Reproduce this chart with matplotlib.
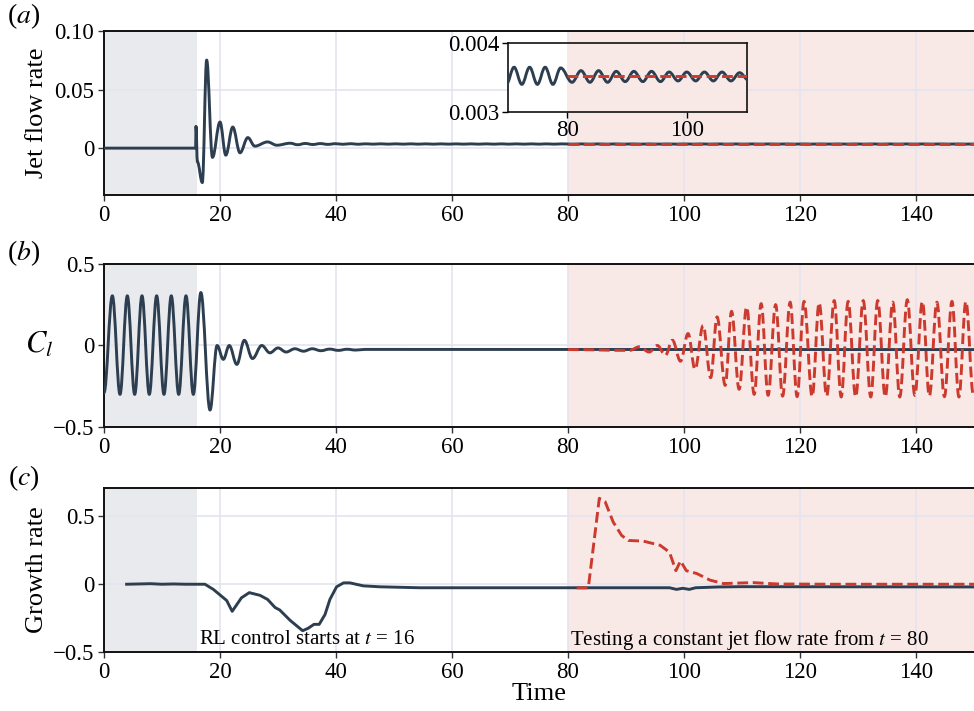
import numpy as np
import matplotlib
matplotlib.use("Agg")
import matplotlib.pyplot as plt
from matplotlib.path import Path
from matplotlib.patches import PathPatch

plt.rcParams['font.family'] = ['Liberation Serif', 'DejaVu Serif']
plt.rcParams['mathtext.fontset'] = 'stix'

# ---------------- data ----------------
# Jet flow rate, RL control (extrema of the signal)
jet_t = [0.0, 15.8, 15.86, 16.1, 16.95, 17.7, 18.7, 20.0, 21.0, 22.2, 23.45, 24.8, 26.0, 28.2, 29.8,
         32.1, 33.4, 34.7, 36.0, 37.3, 38.6, 39.9, 41.2, 42.5, 43.8, 45.1, 46.4, 47.7, 49.0, 50.3,
         51.6, 52.9, 54.2, 55.5, 56.8, 58.1, 59.4, 60.7, 62.0, 63.3, 64.6, 65.9, 67.2, 68.5, 69.8,
         71.1, 72.4, 73.7, 75.0, 76.3, 77.6, 78.9, 80.8,
         82.3, 83.8, 85.25, 86.75, 88.2, 89.7, 91.15, 92.65, 94.1, 95.6, 97.05, 98.55, 100.0, 101.5,
         102.95, 104.45, 105.9, 107.4, 108.85, 110.35, 111.8, 113.3, 114.75, 116.25, 117.7, 119.2,
         120.65, 122.15, 123.6, 125.1, 126.55, 128.05, 129.5, 131.0, 132.45, 133.95, 135.4, 136.9,
         138.35, 139.85, 141.3, 142.8, 144.25, 145.75, 147.2, 148.7, 150.0]
jet_v = [0.0, 0.0, 0.0186, -0.0116, -0.0294, 0.0752, -0.0079, 0.0223, -0.006, 0.018, -0.004, 0.009, 0.0017, 0.0053, 0.0025,
         0.0042, 0.0029, 0.0040, 0.0031, 0.0039, 0.0032, 0.0038, 0.0033, 0.0038, 0.0033, 0.0037, 0.0034, 0.0037, 0.0034, 0.00368,
         0.0034, 0.00367, 0.0034, 0.00366, 0.0034, 0.00366, 0.0034, 0.00365, 0.0034, 0.00365, 0.0034, 0.00365, 0.0034, 0.00365, 0.0034,
         0.00365, 0.0034, 0.00365, 0.0034, 0.00365, 0.0034, 0.00364, 0.00343,
         0.00360, 0.00343, 0.00360, 0.00343, 0.00359, 0.00344, 0.00359, 0.00344, 0.00359, 0.00344, 0.00358, 0.00345, 0.00358, 0.00345,
         0.00358, 0.00345, 0.00358, 0.00345, 0.00357, 0.00346, 0.00357, 0.00346, 0.00357, 0.00346, 0.00357, 0.00346,
         0.00357, 0.00346, 0.00357, 0.00346, 0.00357, 0.00346, 0.00357, 0.00346, 0.00357, 0.00346, 0.00357, 0.00346,
         0.00357, 0.00346, 0.00357, 0.00346, 0.00357, 0.00346, 0.00357, 0.00346, 0.00350]
# Jet flow rate, constant test from t = 80
jetc_t = [80.0, 150.0]
jetc_v = [0.00352, 0.00352]

# Lift coefficient, RL control (extrema)
cl_t = [0.0, 1.44, 2.76, 4.02, 5.29, 6.55, 7.81, 9.08, 10.34, 11.6, 12.88, 14.14, 15.4, 16.7, 18.28,
        19.5, 20.57, 21.6, 22.9, 24.2, 25.6, 27.2, 28.6, 30.0, 31.4, 32.9, 34.4, 35.9, 37.4, 38.9,
        40.4, 41.9, 43.4, 45.0, 150.0]
cl_v = [-0.29, 0.305, -0.30, 0.305, -0.30, 0.305, -0.30, 0.305, -0.30, 0.305, -0.30, 0.305, -0.30, 0.325, -0.396,
        0.0, -0.085, 0.0, -0.116, 0.032, -0.08, 0.0, -0.045, -0.015, -0.04, -0.02, -0.035, -0.02, -0.032, -0.022,
        -0.03, -0.023, -0.028, -0.024, -0.025]
# Lift coefficient, constant jet test (extrema)
clc_t = [80.0, 90.6, 92.3, 94.0, 95.4, 96.8, 98.0, 99.4, 100.7, 101.9, 103.3, 104.6, 105.7, 107.1, 108.2,
         109.5, 110.8, 112.1, 113.3, 114.5, 115.8, 117.0, 118.3, 119.5, 120.7, 122.1, 123.3, 124.6, 125.9,
         127.1, 128.3, 129.6, 130.9, 132.2, 133.4, 134.7, 136.0, 137.2, 138.5, 139.8, 141.1, 142.3, 143.6,
         144.9, 146.2, 147.4, 148.6, 149.9]
clc_v = [-0.025, -0.03, -0.008, -0.04, 0.0, -0.06, 0.032, -0.096, 0.073, -0.146, 0.122, -0.197, 0.175, -0.244, 0.209,
         -0.268, 0.236, -0.299, 0.256, -0.305, 0.25, -0.31, 0.265, -0.313, 0.27, -0.313, 0.262, -0.31, 0.275,
         -0.315, 0.27, -0.315, 0.275, -0.315, 0.275, -0.315, 0.265, -0.315, 0.28, -0.305, 0.27, -0.31, 0.265,
         -0.313, 0.27, -0.315, 0.27, -0.305]

# Growth rate
gr_t = [3.9, 6.0, 8.0, 10.0, 12.0, 14.0, 17.4, 18.85, 21.15, 22.1, 23.7, 25.05, 26.9, 28.2, 29.5, 30.3,
        32.1, 34.25, 35.2, 36.2, 37.1, 38.1, 38.95, 40.1, 41.3, 42.4, 44.7, 47.6, 54.5, 97.5, 98.7,
        99.8, 100.9, 102.0, 106.0, 110.0, 150.0]
gr_v = [0.0, 0.002, 0.004, 0.0, 0.002, 0.0, 0.0, -0.038, -0.12, -0.2, -0.1, -0.062, -0.082, -0.112, -0.172, -0.19,
        -0.267, -0.343, -0.325, -0.296, -0.296, -0.224, -0.112, -0.019, 0.01, 0.01, -0.012, -0.019, -0.026, -0.026, -0.038,
        -0.03, -0.038, -0.026, -0.02, -0.018, -0.02]
grc_t = [81.5, 83.5, 85.4, 86.4, 87.8, 89.25, 90.4, 93.0, 95.9, 97.5, 98.6, 99.4, 100.4, 102.2, 104.5,
         106.8, 111.9, 116.0, 125.0, 150.0]
grc_v = [-0.027, -0.027, 0.634, 0.609, 0.458, 0.36, 0.323, 0.318, 0.287, 0.236, 0.1, 0.172, 0.1, 0.079, 0.03,
         0.005, 0.012, 0.002, 0.0, 0.0]

xticks = [0, 20, 40, 60, 80, 100, 120, 140]
labels = ['Jet flow rate', '$C_l$', 'Growth rate']
panel_tags = ['($a$)', '($b$)', '($c$)']
note_rl = 'RL control starts at $t$ = 16'
note_test = 'Testing a constant jet flow rate from $t$ = 80'

# ---------------- style ----------------
DARK = '#2c3e50'
RED = '#cc3a2e'
GREY = '#e9eaed'
GRID = '#e4e4f0'
TICK_FS = 16.5
LABEL_FS = 19


def smooth(ax, t, v, **kw):
    """Draw a smooth curve through extrema (horizontal tangent at each given point)."""
    verts = [(t[0], v[0])]
    codes = [Path.MOVETO]
    for i in range(1, len(t)):
        d = t[i] - t[i - 1]
        verts += [(t[i - 1] + 0.37 * d, v[i - 1]), (t[i] - 0.37 * d, v[i]), (t[i], v[i])]
        codes += [Path.CURVE4] * 3
    p = PathPatch(Path(verts, codes), fill=False, **kw)
    ax.add_patch(p)
    return p


def style(ax, ylim, yticks, yticklabels):
    ax.set_xlim(0, 150)
    ax.set_ylim(*ylim)
    ax.set_xticks(xticks)
    ax.set_yticks(yticks)
    ax.set_yticklabels(yticklabels)
    ax.grid(True, color=GRID, linewidth=1.2, zorder=0)
    ax.set_axisbelow(True)
    ax.axvspan(0, 16, color=GREY, zorder=0.5, linewidth=0)
    ax.axvspan(80, 150, color='#c0392b', alpha=0.11, zorder=0.5, linewidth=0)
    for s in ['top', 'left', 'bottom']:
        ax.spines[s].set_linewidth(1.4)
        ax.spines[s].set_color('#111111')
    ax.spines['right'].set_visible(False)
    ax.tick_params(labelsize=TICK_FS, length=4, width=1.0, color='#333333', pad=3)


fig = plt.figure(figsize=(9.74, 7.11), dpi=100)
W, H = 974, 711


def axes_px(l, t, r, b):
    return fig.add_axes([l / W, 1 - b / H, (r - l) / W, (b - t) / H])


ax1 = axes_px(104, 31, 974, 195)
ax2 = axes_px(104, 264, 974, 427)
ax3 = axes_px(104, 488, 974, 652)

style(ax1, (-0.04, 0.10), [0, 0.05, 0.10], ['0', '0.05', '0.10'])
style(ax2, (-0.5, 0.5), [-0.5, 0, 0.5], ['\u22120.5', '0', '0.5'])
style(ax3, (-0.5, 0.71), [-0.5, 0, 0.5], ['\u22120.5', '0', '0.5'])

lw = 2.1
smooth(ax1, jet_t, jet_v, edgecolor=DARK, linewidth=lw, zorder=3, joinstyle='round', capstyle='round')
ax1.plot(jetc_t, jetc_v, color=RED, linestyle='--', linewidth=lw, zorder=4)

smooth(ax2, cl_t, cl_v, edgecolor=DARK, linewidth=lw, zorder=3, joinstyle='round', capstyle='round')
smooth(ax2, clc_t, clc_v, edgecolor=RED, linewidth=lw, linestyle='--', zorder=4)

ax3.plot(gr_t, gr_v, color=DARK, linewidth=lw, zorder=3)
ax3.plot(grc_t, grc_v, color=RED, linewidth=lw, linestyle='--', zorder=4)

ax3.text(16.4, -0.41, note_rl, fontsize=15, ha='left', va='center', zorder=5)
ax3.text(80.3, -0.41, note_test, fontsize=15, ha='left', va='center', zorder=5)

ax1.set_ylabel(labels[0], fontsize=LABEL_FS)
ax2.set_ylabel(labels[1], fontsize=22, rotation=0, va='center')
ax3.set_ylabel(labels[2], fontsize=LABEL_FS)
ax1.yaxis.set_label_coords(-0.064, 0.5)
ax2.yaxis.set_label_coords(-0.074, 0.5)
ax3.yaxis.set_label_coords(-0.064, 0.5)
ax3.set_xlabel('Time', fontsize=LABEL_FS, labelpad=0)

for tag, ypx in zip(panel_tags, [16, 253, 478]):
    fig.text(24 / W, 1 - ypx / H, tag, fontsize=20, ha='center', va='center')

# inset
axi = axes_px(507.5, 43.3, 746.5, 111.7)
axi.set_xlim(70, 110)
axi.set_ylim(0.003, 0.004)
axi.set_facecolor('white')
axi.axvspan(80, 110, color='#c0392b', alpha=0.11, zorder=0.5, linewidth=0)
smooth(axi, jet_t, jet_v, edgecolor=DARK, linewidth=lw, zorder=3)
axi.plot(jetc_t, jetc_v, color=RED, linestyle='--', linewidth=lw, zorder=4)
axi.set_xticks([80, 100])
axi.set_yticks([0.003, 0.004])
axi.set_yticklabels(['0.003', '0.004'])
axi.tick_params(labelsize=TICK_FS, length=4, width=1.0, pad=2)
for s in axi.spines.values():
    s.set_linewidth(1.2)
    s.set_color('#111111')

fig.savefig('out.png', dpi=100)
